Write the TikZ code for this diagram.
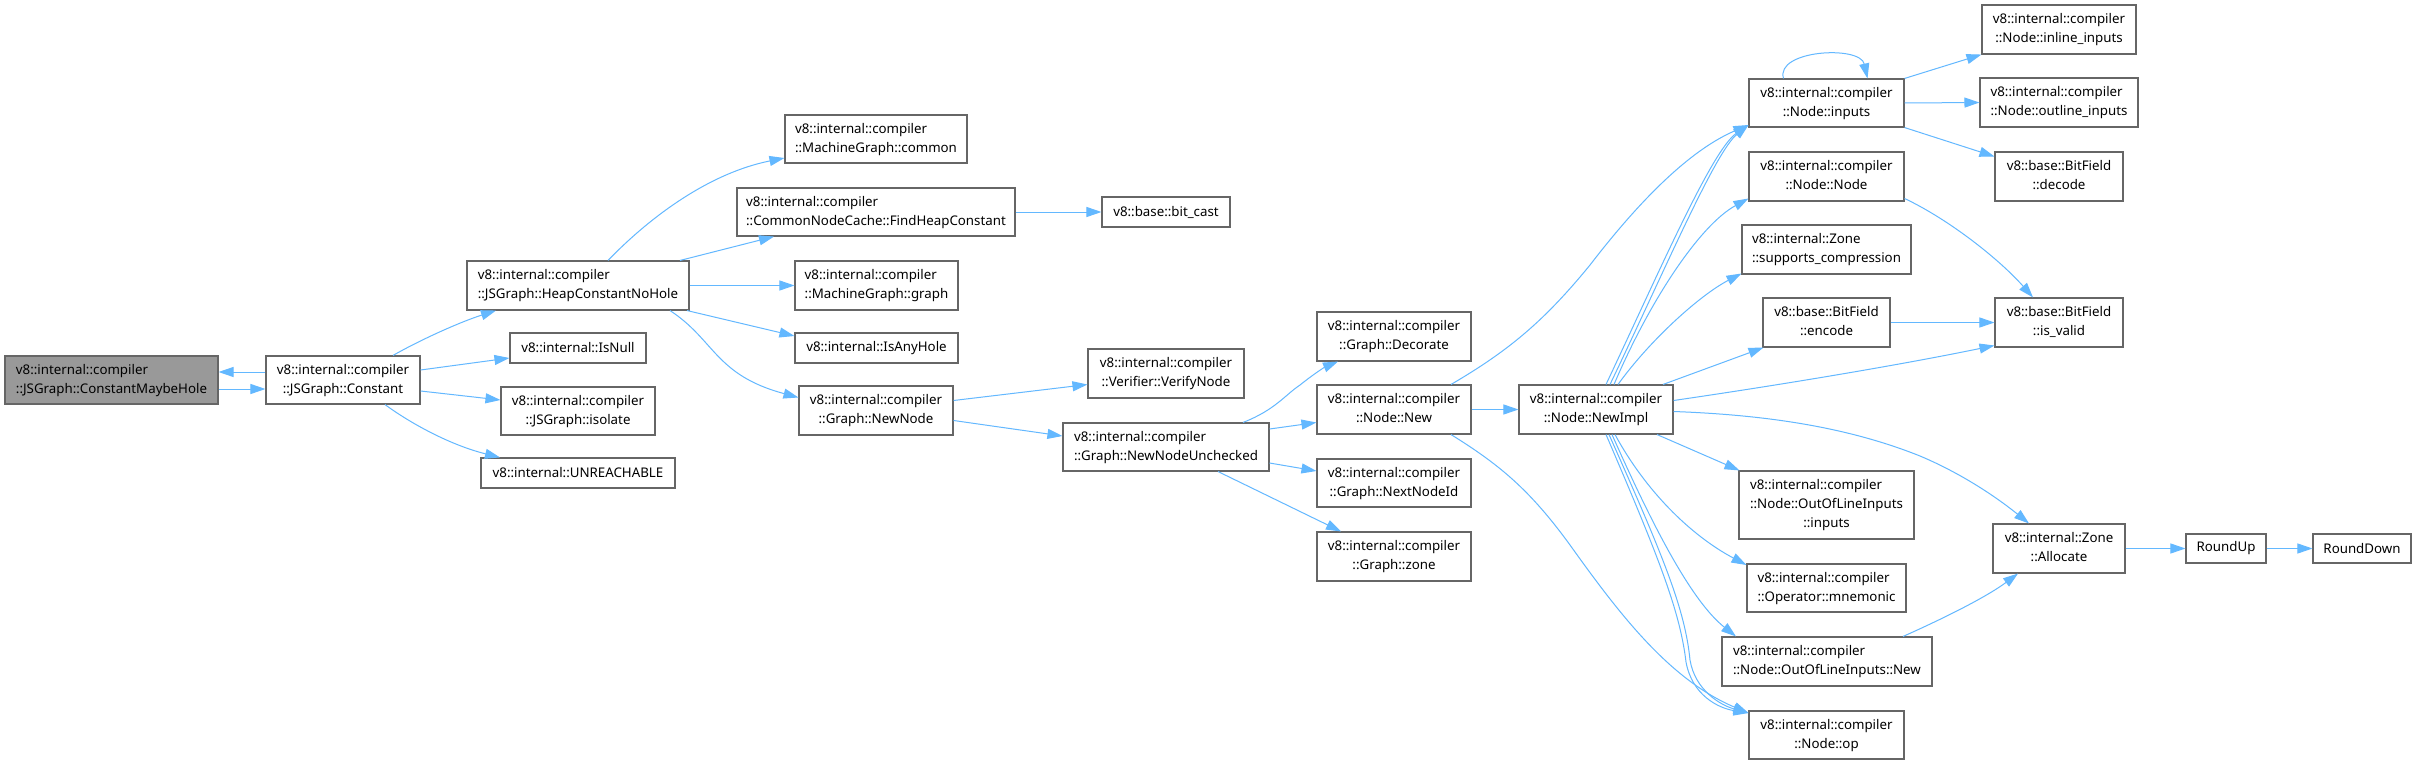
\documentclass[tikz,border=0pt]{standalone}
\usepackage{fontspec}
\setmainfont{Noto Sans}
\usetikzlibrary{arrows.meta}
\definecolor{boxgray}{HTML}{666666}
\definecolor{rootgray}{HTML}{999999}
\definecolor{edgeblue}{HTML}{63B8FF}
\newcommand\lbl[2]{\begin{tabular}{@{}l@{}}#1\\\multicolumn{1}{@{}c@{}}{#2}\end{tabular}}
\newcommand\lblthree[3]{\begin{tabular}{@{}l@{}}#1\\#2\\\multicolumn{1}{@{}c@{}}{#3}\end{tabular}}
\newcommand\vic{v8::internal::compiler}
\begin{document}
\begin{tikzpicture}[x=1pt,y=-1pt,
  fn/.style={draw=boxgray, line width=1.1pt, fill=white, inner sep=0pt,
    font=\fontsize{13.3}{19}\selectfont, text=black},
  root/.style={fn, fill=rootgray},
  call/.style={draw=edgeblue, line width=1pt, -{Triangle[length=15pt,width=10pt]}},
]
\useasboundingbox[fill=white] (0,0) rectangle (2416,765);

% column 1-2
\node[root, minimum width=213pt, minimum height=48pt] (cmh) at (111.5,380) {\lbl{\vic}{::JSGraph::ConstantMaybeHole}};
\node[fn, minimum width=154pt, minimum height=48pt] (cst) at (343,380) {\lbl{\vic}{::JSGraph::Constant}};
% column 3
\node[fn, minimum width=222pt, minimum height=49pt] (hcnh) at (578,285.5) {\lbl{\vic}{::JSGraph::HeapConstantNoHole}};
\node[fn, minimum width=136pt, minimum height=30pt] (isnull) at (578,348) {v8::internal::IsNull};
\node[fn, minimum width=154pt, minimum height=48pt] (isolate) at (578,411) {\lbl{\vic}{::JSGraph::isolate}};
\node[fn, minimum width=194pt, minimum height=30pt] (unreach) at (578,473) {v8::internal::UNREACHABLE};
% column 4
\node[fn, minimum width=182pt, minimum height=48pt] (common) at (876,139) {\lbl{\vic}{::MachineGraph::common}};
\node[fn, minimum width=278pt, minimum height=48pt] (fhc) at (876,212) {\lbl{\vic}{::CommonNodeCache::FindHeapConstant}};
\node[fn, minimum width=163pt, minimum height=49pt] (mgraph) at (876.5,285.5) {\lbl{\vic}{::MachineGraph::graph}};
\node[fn, minimum width=163pt, minimum height=30pt] (anyhole) at (876.5,348) {v8::internal::IsAnyHole};
\node[fn, minimum width=154pt, minimum height=49pt] (newnode) at (876,410.5) {\lbl{\vic}{::Graph::NewNode}};
% column 5
\node[fn, minimum width=128pt, minimum height=30pt] (bitcast) at (1166,212) {v8::base::bit\_cast};
\node[fn, minimum width=156pt, minimum height=49pt] (verify) at (1166,373.5) {\lbl{\vic}{::Verifier::VerifyNode}};
\node[fn, minimum width=206pt, minimum height=48pt] (nnu) at (1166,447) {\lbl{\vic}{::Graph::NewNodeUnchecked}};
% column 6
\node[fn, minimum width=154pt, minimum height=49pt] (decorate) at (1394,336.5) {\lbl{\vic}{::Graph::Decorate}};
\node[fn, minimum width=154pt, minimum height=49pt] (nnew) at (1394,409.5) {\lbl{\vic}{::Node::New}};
\node[fn, minimum width=154pt, minimum height=48pt] (nextid) at (1394,483) {\lbl{\vic}{::Graph::NextNodeId}};
\node[fn, minimum width=154pt, minimum height=49pt] (gzone) at (1394,556.5) {\lbl{\vic}{::Graph::zone}};
% column 7
\node[fn, minimum width=154pt, minimum height=49pt] (newimpl) at (1596,409.5) {\lbl{\vic}{::Node::NewImpl}};
% column 8
\node[fn, minimum width=155pt, minimum height=48pt] (inputs) at (1826.5,103) {\lbl{\vic}{::Node::inputs}};
\node[fn, minimum width=155pt, minimum height=49pt] (nnode) at (1826.5,176.5) {\lbl{\vic}{::Node::Node}};
\node[fn, minimum width=169pt, minimum height=49pt] (supcomp) at (1826.5,249.5) {\lbl{v8::internal::Zone}{::supports\_compression}};
\node[fn, minimum width=127pt, minimum height=49pt] (encode) at (1826.5,322.5) {\lbl{v8::base::BitField}{::encode}};
\node[fn, minimum width=175pt, minimum height=68pt] (oolinputs) at (1826.5,505) {\lblthree{\vic}{::Node::OutOfLineInputs}{::inputs}};
\node[fn, minimum width=159pt, minimum height=48pt] (mnemonic) at (1826.5,588) {\lbl{\vic}{::Operator::mnemonic}};
\node[fn, minimum width=210pt, minimum height=49pt] (oolnew) at (1827,661.5) {\lbl{\vic}{::Node::OutOfLineInputs::New}};
\node[fn, minimum width=155pt, minimum height=48pt] (op) at (1826.5,735) {\lbl{\vic}{::Node::op}};
% column 9
\node[fn, minimum width=154pt, minimum height=49pt] (inline) at (2059,29.5) {\lbl{\vic}{::Node::inline\_inputs}};
\node[fn, minimum width=158pt, minimum height=49pt] (outline) at (2059,102.5) {\lbl{\vic}{::Node::outline\_inputs}};
\node[fn, minimum width=128pt, minimum height=49pt] (decode) at (2059,176.5) {\lbl{v8::base::BitField}{::decode}};
\node[fn, minimum width=128pt, minimum height=49pt] (isvalid) at (2059,322.5) {\lbl{v8::base::BitField}{::is\_valid}};
\node[fn, minimum width=132pt, minimum height=49pt] (allocate) at (2059,548.5) {\lbl{v8::internal::Zone}{::Allocate}};
% columns 10-11
\node[fn, minimum width=80pt, minimum height=29pt] (roundup) at (2226,548.5) {RoundUp};
\node[fn, minimum width=98pt, minimum height=29pt] (rounddown) at (2362,548.5) {RoundDown};

% edges
\draw[call] ([yshift=-9pt]cmh.east) -- ([yshift=-9pt]cst.west);
\draw[call] ([yshift=8pt]cst.west) -- ([yshift=8pt]cmh.east);
\draw[call] ([xshift=50pt]cst.north) .. controls (420,340) and (460,322) .. ([xshift=-82pt]hcnh.south);
\draw[call] ([yshift=10pt]cst.east) -- ([yshift=-10pt]isnull.west);
\draw[call] ([yshift=-11pt]cst.east) -- ([yshift=11pt]isolate.west);
\draw[call] ([xshift=42pt]cst.south) .. controls (410,423) and (450,445) .. ([xshift=-78pt]unreach.north);

\draw[call] ([xshift=30pt]hcnh.north) .. controls (645,222) and (705,174) .. ([yshift=-19pt]common.west);
\draw[call] ([xshift=102pt]hcnh.north) -- ([xshift=-102pt]fhc.south);
\draw[call] (hcnh.east) -- (mgraph.west);
\draw[call] ([xshift=109pt]hcnh.south) -- ([yshift=12pt]anyhole.west);
\draw[call] ([xshift=92pt]hcnh.south) .. controls (715,340) and (715,375) .. ([yshift=13pt]newnode.west);

\draw[call] (fhc.east) -- (bitcast.west);
\draw[call] ([yshift=10pt]newnode.east) -- ([yshift=-11pt]verify.west);
\draw[call] ([yshift=-10pt]newnode.east) -- ([yshift=11pt]nnu.west);

\draw[call] ([xshift=77pt]nnu.north) .. controls (1275,410) and (1285,395) .. (1300,385)
   .. controls (1315,373) and (1325,367) .. ([xshift=-56pt]decorate.south);
\draw[call] ([yshift=18pt]nnu.east) -- ([yshift=-13pt]nnew.west);
\draw[call] ([yshift=-16pt]nnu.east) -- ([yshift=12pt]nextid.west);
\draw[call] ([xshift=52pt]nnu.south) -- ([xshift=-53pt]gzone.north);

\draw[call] (nnew.east) -- (newimpl.west);
\draw[call] ([xshift=57pt]nnew.north) .. controls (1510,350) and (1545,320) .. (1590,265)
   .. controls (1640,200) and (1690,150) .. ([yshift=-22pt]inputs.west);
\draw[call] ([xshift=57pt]nnew.south) .. controls (1500,465) and (1530,490) .. (1570,545)
   .. controls (1620,615) and (1670,680) .. ([yshift=22pt]op.west);

\draw[call] ([xshift=10pt]newimpl.north) .. controls (1660,270) and (1712,150) .. ([yshift=-22pt]inputs.west);
\draw[call] ([xshift=14pt]newimpl.north) .. controls (1664,272) and (1715,152) .. ([yshift=-22pt]inputs.west);
\draw[call] ([xshift=18pt]newimpl.north) .. controls (1650,300) and (1700,225) .. ([yshift=-22pt]nnode.west);
\draw[call] ([xshift=22pt]newimpl.north) .. controls (1650,340) and (1700,295) .. ([yshift=-24pt]supcomp.west);
\draw[call] ([xshift=67pt]newimpl.north) -- ([xshift=-63pt]encode.south);
\draw[call] ([yshift=9pt]newimpl.east) .. controls (1780,385) and (1900,365) .. ([yshift=-23pt]isvalid.west);
\draw[call] ([yshift=-2pt]newimpl.east) .. controls (1770,415) and (1850,428) .. (1920,456)
   .. controls (1965,475) and (2000,500) .. ([xshift=-30pt]allocate.north);
\draw[call] ([xshift=61pt]newimpl.south) -- ([xshift=-87pt]oolinputs.north);
\draw[call] ([xshift=19pt]newimpl.south) .. controls (1645,490) and (1690,535) .. ([yshift=23pt]mnemonic.west);
\draw[call] ([xshift=16pt]newimpl.south) .. controls (1650,520) and (1690,600) .. ([xshift=-91pt]oolnew.north);
\draw[call] ([xshift=13pt]newimpl.south) .. controls (1665,560) and (1685,610) .. (1690,660)
   .. controls (1695,690) and (1720,705) .. ([yshift=22pt]op.west);
\draw[call] ([xshift=10pt]newimpl.south) .. controls (1660,560) and (1680,612) .. (1686,662)
   .. controls (1692,695) and (1718,708) .. ([yshift=22pt]op.west);

\draw[call] (encode.east) -- (isvalid.west);
\draw[call] ([yshift=-22pt]nnode.east) .. controls (1950,220) and (2000,260) .. ([xshift=-26pt]isvalid.north);
\draw[call] ([xshift=76pt]oolnew.north) .. controls (1940,620) and (1985,598) .. ([xshift=-41pt]allocate.south);

\draw[call] ([xshift=-43pt]inputs.north) .. controls (1775,50) and (1860,45) .. ([xshift=41pt]inputs.north);
\draw[call] (inputs.north east) -- (inline.south west);
\draw[call] (inputs.east) -- (outline.west);
\draw[call] (inputs.south east) -- ([yshift=20pt]decode.west);

\draw[call] (allocate.east) -- (roundup.west);
\draw[call] (roundup.east) -- (rounddown.west);
\end{tikzpicture}
\end{document}
